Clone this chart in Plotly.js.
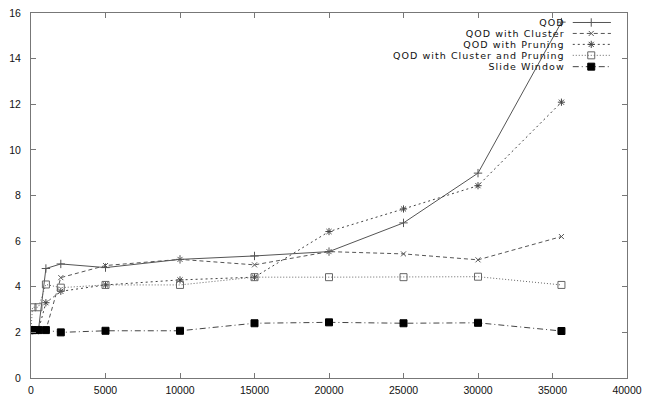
<!DOCTYPE html>
<html>
<head>
<meta charset="utf-8">
<script src="https://cdn.plot.ly/plotly-3.0.1.min.js"></script>
<style>html,body{margin:0;padding:0;background:#fff;}#chart{width:648px;height:399px;}</style>
</head>
<body>
<div id="chart"></div>
<script>
const xValues = [0, 100, 500, 1000, 2000, 5000, 10000, 15000, 20000, 25000, 30000, 35600];
const qod        = [2.1, 2.1, 2.1, 4.8, 5.0, 4.84, 5.2, 5.35, 5.54, 6.8, 8.98, 15.6];
const qodCluster = [2.1, 2.1, 2.1, 2.1, 4.4, 4.93, 5.2, 4.96, 5.54, 5.44, 5.18, 6.2];
const qodPruning = [2.1, 2.1, 2.1, 3.3, 3.8, 4.08, 4.3, 4.42, 6.42, 7.41, 8.43, 12.09];
const qodClusterPruning = [2.1, 3.1, 3.1, 4.1, 3.96, 4.08, 4.08, 4.42, 4.42, 4.42, 4.44, 4.08];
const slideWindow = [2.1, 2.1, 2.1, 2.1, 2.0, 2.07, 2.07, 2.4, 2.44, 2.4, 2.42, 2.06];
const seriesNames = ["QOD", "QOD with Cluster", "QOD with Pruning", "QOD with Cluster and Pruning", "Slide Window"];

const seriesData = [qod, qodCluster, qodPruning, qodClusterPruning, slideWindow];
const styles = [
  {dash: "solid", symbol: "cross-thin-open", size: 6, color: "#555"},
  {dash: "4px,3px", symbol: "x-thin-open", size: 5, color: "#555"},
  {dash: "2px,3px", symbol: "asterisk-open", size: 6, color: "#444"},
  {dash: "1px,2px", symbol: "square-open", size: 7, color: "#666"},
  {dash: "6px,3px,1px,3px", symbol: "square", size: 7, color: "#444"}
];

const traces = seriesData.map((ys, i) => ({
  x: xValues, y: ys, type: "scatter", mode: "lines+markers", name: seriesNames[i],
  line: {color: styles[i].color, width: 1, dash: styles[i].dash},
  marker: {symbol: styles[i].symbol, size: styles[i].size, color: i === 4 ? "#000" : styles[i].color,
           line: {color: i === 4 ? "#000" : styles[i].color, width: 1}},
  showlegend: false, cliponaxis: true
}));

// custom gnuplot-style key: samples in overlay axes [0,1], text right-aligned to their left
const keyX0 = 0.909, keyX1 = 0.973, keyXm = 0.94, keyTextX = 0.897;
const keyRows = [0.974, 0.944, 0.914, 0.884, 0.853];
seriesNames.forEach((n, i) => {
  traces.push({
    x: [keyX0, keyX1], y: [keyRows[i], keyRows[i]], xaxis: "x2", yaxis: "y2",
    type: "scatter", mode: "lines", line: {color: styles[i].color, width: 1, dash: styles[i].dash},
    showlegend: false, hoverinfo: "skip"
  });
  traces.push({
    x: [keyXm], y: [keyRows[i]], xaxis: "x2", yaxis: "y2", type: "scatter", mode: "markers",
    marker: {symbol: styles[i].symbol, size: styles[i].size, color: i === 4 ? "#000" : styles[i].color,
             line: {color: i === 4 ? "#000" : styles[i].color, width: 1}},
    showlegend: false, hoverinfo: "skip"
  });
});
const keyText = seriesNames.map(n => '<span style="font-size:9.5px;letter-spacing:1.05px">' + n + '</span>').join('<br>');
const annotations = [{
  xref: "x2", yref: "y2", x: keyTextX, y: 0.992, text: keyText, showarrow: false,
  xanchor: "right", yanchor: "top", align: "right", borderpad: 0,
  font: {family: "DejaVu Sans, sans-serif", size: 8.5, color: "#111"}
}];

const axisCommon = {
  showgrid: false, zeroline: false, showline: true, mirror: "ticks", linecolor: "#777", linewidth: 1,
  ticks: "inside", ticklen: 5, tickcolor: "#777", tickwidth: 1,
  tickfont: {family: "Liberation Sans, Arial, sans-serif", size: 10.5, color: "#111"}
};

const layout = {
  width: 648, height: 399,
  margin: {l: 31, r: 21, t: 13, b: 21, pad: 0},
  paper_bgcolor: "#fff", plot_bgcolor: "#fff",
  showlegend: false,
  xaxis: Object.assign({}, axisCommon, {range: [0, 40000], dtick: 5000, tick0: 0, tickformat: "d", ticklabelstandoff: 2}),
  yaxis: Object.assign({}, axisCommon, {range: [0, 16], dtick: 2, tick0: 0, tickformat: "d", ticklabelstandoff: 7}),
  xaxis2: {overlaying: "x", range: [0, 1], visible: false, fixedrange: true},
  yaxis2: {overlaying: "y", range: [0, 1], visible: false, fixedrange: true},
  annotations: annotations
};

Plotly.newPlot("chart", traces, layout, {staticPlot: true});
</script>
</body>
</html>
